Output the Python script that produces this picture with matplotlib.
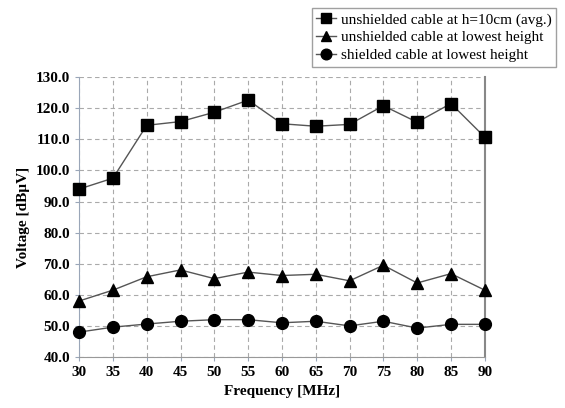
import matplotlib
matplotlib.use("Agg")
import matplotlib.pyplot as plt

freq = [30, 35, 40, 45, 50, 55, 60, 65, 70, 75, 80, 85, 90]
unshielded_h10 = [94.0, 97.5, 114.5, 115.7, 118.7, 122.6, 115.0, 114.2, 114.8, 120.8, 115.5, 121.5, 110.7]
unshielded_low = [58.0, 61.5, 65.8, 68.0, 65.2, 67.3, 66.2, 66.6, 64.5, 69.5, 63.8, 66.8, 61.5]
shielded_low = [48.0, 49.6, 50.6, 51.5, 52.0, 52.0, 51.0, 51.5, 50.0, 51.5, 49.3, 50.5, 50.5]
labels = ["unshielded cable at h=10cm (avg.)",
          "unshielded cable at lowest height",
          "shielded cable at lowest height"]

plt.rcParams['font.family'] = ['Liberation Serif', 'DejaVu Serif']

fig = plt.figure(figsize=(5.65, 4.08), dpi=100)
ax = fig.add_axes([0.140, 0.125, 0.718, 0.686])

line_kw = dict(color='#555555', lw=1.0, markerfacecolor='black',
               markeredgecolor='black', markersize=8.5, clip_on=False, zorder=3)
ax.plot(freq, unshielded_h10, marker='s', label=labels[0], **line_kw)
ax.plot(freq, unshielded_low, marker='^', label=labels[1], **line_kw)
ax.plot(freq, shielded_low, marker='o', label=labels[2], **line_kw)

ax.set_xlim(30, 90)
ax.set_ylim(40, 130)
ax.set_xticks(freq)
ax.set_yticks(range(40, 131, 10))
ax.set_yticklabels([f"{v:.1f}" for v in range(40, 131, 10)])
for t in ax.get_xticklabels() + ax.get_yticklabels():
    t.set_fontweight('bold')
    t.set_fontsize(11)
ax.tick_params(axis='both', length=3, color='#9aa6b8')

ax.grid(True, color='#aaaaaa', linestyle=(0, (4, 3)), lw=0.8)
ax.set_axisbelow(True)
ax.spines['top'].set_visible(False)
ax.spines['left'].set_color('#9aa6b8')
ax.spines['bottom'].set_color('#999999')
ax.spines['right'].set_color('#888888')
ax.spines['right'].set_linewidth(1.5)

ax.set_xlabel("Frequency [MHz]", fontweight='bold', fontsize=11)
ax.set_ylabel("Voltage [dBµV]", fontweight='bold', fontsize=11)

leg = fig.legend(loc='upper right', bbox_to_anchor=(0.998, 0.998),
                 fontsize=11, frameon=True, fancybox=False,
                 handlelength=1.3, handletextpad=0.3, borderpad=0.3,
                 labelspacing=0.25, markerscale=0.9, numpoints=1)
leg.get_frame().set_edgecolor('#888888')
leg.get_frame().set_linewidth(1.0)

fig.savefig("out.png", dpi=100)
